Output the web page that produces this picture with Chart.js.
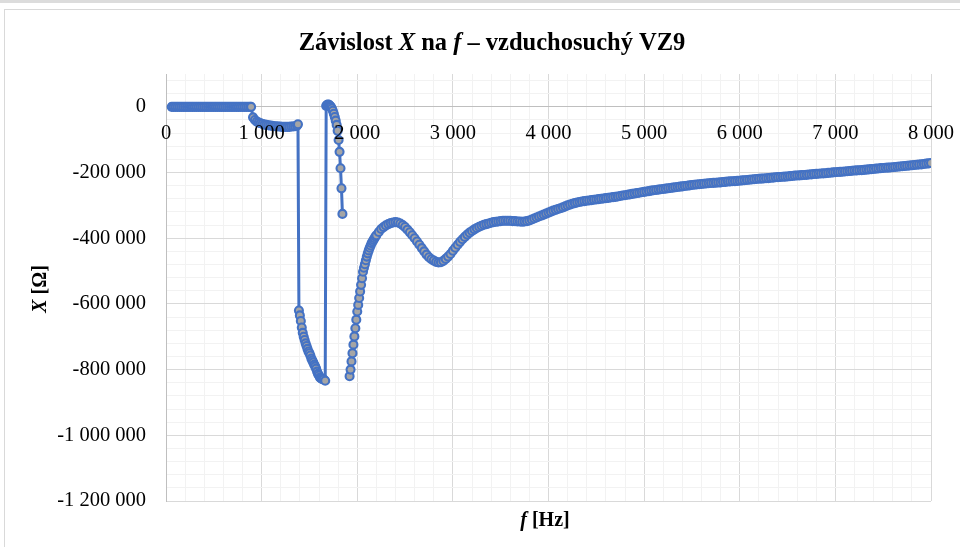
<!DOCTYPE html>
<html><head><meta charset="utf-8">
<script src="https://cdn.jsdelivr.net/npm/chart.js@4.4.1/dist/chart.umd.min.js"></script>
<style>
html,body{margin:0;padding:0;background:#fff;}
#wrap{position:relative;width:960px;height:547px;overflow:hidden;background:#fff;}
#topbar{position:absolute;left:0;top:0;width:960px;height:3px;background:#dcdcdc;}
#frame{position:absolute;left:4px;top:9px;width:1000px;height:600px;border-left:1px solid #d9d9d9;border-top:1px solid #d9d9d9;}
canvas{position:absolute;left:0;top:0;}
</style></head><body>
<div id="wrap"><div id="topbar"></div><div id="frame"></div><canvas id="c" width="960" height="547"></canvas></div>
<script>
// Segment before the gap
const freqA = [
  60,80,100,120,140,160,180,200,220,240,260,280,300,320,340,360,380,400,420,440,460,
  480,500,520,540,560,580,600,620,640,660,680,700,720,740,760,780,800,820,840,860,880,890,
  910,930,950,970,990,1010,1030,1050,1070,1090,1110,1130,1150,1170,1190,1210,1230,1250,1270,1290,1310,1330,1350,1370,1380,
  1390,1400,1410,1420,1430,1440,1450,1460,1470,1480,1490,1500,1510,1520,1530,1540,1550,1560,1570,1580,1590,1600,1610,1620,1630,1640,1650,1665,
  1675,1685,1695,1705,1715,1725,1735,1745,1755,1765,1775,1785,1795,1805,1815,1825,1835,1845
];
const reactA = [
  0,0,0,0,0,0,0,0,0,0,0,0,0,0,0,0,0,0,0,0,0,
  0,0,0,0,0,0,0,0,0,0,0,0,0,0,0,0,0,0,0,0,0,0,
  -32000,-40000,-45000,-48000,-50000,-52000,-54000,-55000,-56000,-57000,-58000,-59000,-59000,-60000,-60000,-61000,-61000,-61000,-61000,-61000,-60000,-60000,-59000,-57000,-53000,
  -620000,-635000,-652000,-672000,-688000,-700000,-710000,-720000,-728000,-737000,-745000,-750000,-757000,-766000,-772000,-778000,-785000,-790000,-797000,-806000,-813000,-818000,-824000,-826000,-828000,-829000,-830000,-834000,
  3000,6000,7000,6000,3000,0,-5000,-12000,-21000,-31000,-42000,-55000,-73000,-101000,-137000,-187000,-248000,-326000
];
// Segment after the gap
const freqB = [
  1920,1930,1940,1950,1960,1970,1980,1990,2000,2010,2020,2030,2040,2050,2060,2070,2080,2090,2100,2110,2120,2130,2140,2150,2160,2170,2180,2190,
  2200,2225,2250,2275,2300,2325,2350,2375,2400,2425,2450,2475,2500,2525,2550,2575,2600,2625,2650,2675,2700,2725,2750,2775,2800,2825,2850,2875,2900,2925,2950,2975,
  3000,3025,3050,3075,3100,3125,3150,3175,3200,3225,3250,3275,3300,3325,3350,3375,3400,3425,3450,3475,
  3500,3525,3550,3575,3600,3625,3650,3675,3700,3725,3750,3775,3800,3825,3850,3875,3900,3925,3950,3975,
  4000,4025,4050,4075,4100,4125,4150,4175,
  4200,4225,4250,4275,4300,4325,4350,4375,
  4400,4425,4450,4475,4500,4525,4550,4575,
  4600,4625,4650,4675,4700,4725,4750,4775,
  4800,4825,4850,4875,4900,4925,4950,4975,
  5000,5025,5050,5075,5100,5125,5150,5175,
  5200,5225,5250,5275,5300,5325,5350,5375,
  5400,5425,5450,5475,5500,5525,5550,5575,
  5600,5625,5650,5675,5700,5725,5750,5775,
  5800,5825,5850,5875,5900,5925,5950,5975,
  6000,6025,6050,6075,6100,6125,6150,6175,
  6200,6225,6250,6275,6300,6325,6350,6375,
  6400,6425,6450,6475,6500,6525,6550,6575,
  6600,6625,6650,6675,6700,6725,6750,6775,
  6800,6825,6850,6875,6900,6925,6950,6975,
  7000,7025,7050,7075,7100,7125,7150,7175,
  7200,7225,7250,7275,7300,7325,7350,7375,
  7400,7425,7450,7475,7500,7525,7550,7575,
  7600,7625,7650,7675,7700,7725,7750,7775,
  7800,7825,7850,7875,7900,7925,7950,7975,
  8000
];
const reactB = [
  -820000,-800000,-775000,-750000,-724000,-699000,-674000,-648000,-623000,-603000,-582000,-562000,-542000,-522000,-502000,-490000,-479000,-467000,-456000,-446000,-437000,-429000,-422000,-415000,-410000,-405000,-400000,-395000,
  -391000,-381000,-372000,-366000,-361000,-357000,-354000,-352000,-351000,-352000,-355000,-360000,-366000,-374000,-382000,-391000,-400000,-410000,-420000,-430000,-440000,-450000,-458000,-464000,-468000,-472000,-474000,-473000,-469000,-463000,-456000,-448000,
  -438000,-429000,-420000,-411000,-403000,-396000,-389000,-383000,-378000,-373000,-369000,-365000,-362000,-359000,-357000,-355000,-353000,-351000,-350000,-349000,
  -348000,-347000,-347000,-347000,-347000,-348000,-348000,-349000,-349000,-350000,-349000,-348000,-346000,-343000,-340000,-337000,-334000,-331000,-328000,-325000,
  -322000,-319000,-316000,-313500,-311000,-308500,-306000,-303000,
  -300000,-297500,-295000,-293000,-291000,-289500,-288000,-287000,
  -286000,-285000,-284000,-283000,-282000,-281000,-280000,-279000,
  -278000,-277000,-276000,-275000,-274000,-273000,-271500,-270000,
  -269000,-267500,-266500,-265000,-264000,-262500,-261500,-260000,
  -259000,-257500,-256500,-255000,-254000,-253000,-252000,-251000,
  -250000,-249000,-248000,-247000,-246000,-245000,-244000,-243000,
  -242000,-241000,-240000,-239000,-238000,-237000,-236500,-235500,
  -235000,-234000,-233500,-232500,-232000,-231500,-231000,-230500,
  -230000,-229000,-228500,-227500,-227000,-226500,-226000,-225500,
  -225000,-224000,-223500,-222500,-222000,-221000,-220500,-219500,
  -219000,-218500,-218000,-217500,-217000,-216000,-215500,-214500,
  -214000,-213500,-213000,-212500,-212000,-211000,-210500,-209500,
  -209000,-208500,-208000,-207500,-207000,-206000,-205500,-204500,
  -204000,-203500,-203000,-202500,-202000,-201000,-200500,-199500,
  -199000,-198500,-198000,-197500,-197000,-196000,-195500,-194500,
  -194000,-193500,-193000,-192500,-192000,-191000,-190500,-189500,
  -189000,-188000,-187500,-186500,-186000,-185500,-185000,-184500,
  -184000,-183000,-182500,-181500,-181000,-180000,-179500,-178500,
  -178000,-177000,-176500,-175500,-175000,-174000,-173000,-172000,
  -171000
];
// Axis ticks (labelled) and minor gridline spacing
const xLabels = [0,1000,2000,3000,4000,5000,6000,7000,8000];
const yLabels = [0,-200000,-400000,-600000,-800000,-1000000,-1200000];
const xMinorStep = 200;
const yMinorStep = 40000;
const xMin = 0, xMax = 8000, yMin = -1200000, yMax = 100000;

const FONT = '"Liberation Serif","Times New Roman",serif';
const BLUE = '#4472C4', GREY = '#A5A5A5';

function fmt(v){
  const s = Math.abs(v).toString().replace(/\B(?=(\d{3})+(?!\d))/g,'\u00a0');
  return (v < 0 ? '-' : '') + s;
}
function gridValues(min, max, step){
  const out = [];
  for (let v = Math.ceil(min/step)*step; v <= max; v += step) out.push(v);
  return out;
}
const xGrid = gridValues(xMin, xMax, xMinorStep);
const yGrid = gridValues(yMin, yMax, yMinorStep);

const pts = (f, r) => f.map((x, i) => ({x: x, y: r[i]}));
const style = {
  showLine: true, borderColor: BLUE, borderWidth: 3, tension: 0,
  pointRadius: 4, pointBorderWidth: 2.1, pointBackgroundColor: GREY, pointBorderColor: BLUE,
  pointHoverRadius: 4
};

function drawRich(ctx, parts, size, cx, y){
  let total = 0;
  parts.forEach(p => { ctx.font = (p[1] ? 'italic ' : '') + 'bold ' + size + 'px ' + FONT; p.w = ctx.measureText(p[0]).width; total += p.w; });
  let x = cx - total/2;
  ctx.textAlign = 'left';
  ctx.textBaseline = 'alphabetic';
  ctx.fillStyle = '#000';
  parts.forEach(p => { ctx.font = (p[1] ? 'italic ' : '') + 'bold ' + size + 'px ' + FONT; ctx.fillText(p[0], x, y); x += p.w; });
}

const textPlugin = {
  id: 'texts',
  afterDraw(chart){
    const ctx = chart.ctx;
    ctx.save();
    drawRich(ctx, [['Závislost ',0],['X',1],[' na ',0],['f',1],[' – vzduchosuchý VZ9',0]], 24.5, 492, 50);
    drawRich(ctx, [['f',1],[' [Hz]',0]], 20, 545, 526);
    ctx.translate(46, 289);
    ctx.rotate(-Math.PI/2);
    drawRich(ctx, [['X',1],[' [Ω]',0]], 20, 0, 0);
    ctx.restore();
  }
};

new Chart(document.getElementById('c'), {
  type: 'scatter',
  data: { datasets: [
    Object.assign({ data: pts(freqA, reactA) }, style),
    Object.assign({ data: pts(freqB, reactB) }, style)
  ]},
  options: {
    responsive: false, animation: false, devicePixelRatio: 1,
    layout: { padding: { left: 0, top: 74, right: 29, bottom: 46 } },
    plugins: { legend: { display: false }, tooltip: { enabled: false }, title: { display: false } },
    scales: {
      x: {
        type: 'linear', position: { y: 0 }, min: xMin, max: xMax,
        afterBuildTicks: s => { s.ticks = xGrid.map(v => ({ value: v })); },
        afterFit: s => { s.paddingLeft = 0; s.paddingRight = 0; },
        ticks: { autoSkip: false, maxRotation: 0, minRotation: 0, padding: 14, color: '#000', z: 1,
          font: { family: FONT, size: 20.5 },
          callback: v => xLabels.includes(v) ? fmt(v) : '' },
        grid: { drawTicks: false, lineWidth: 1,
          color: c => (c.tick && xLabels.includes(c.tick.value)) ? '#d9d9d9' : '#f2f2f2' },
        border: { color: '#bfbfbf', width: 1 }
      },
      y: {
        type: 'linear', position: 'left', min: yMin, max: yMax,
        afterBuildTicks: s => { s.ticks = yGrid.map(v => ({ value: v })); },
        afterFit: s => { s.width = 166; s.paddingTop = 0; s.paddingBottom = 0; },
        ticks: { autoSkip: false, padding: 20, color: '#000',
          font: { family: FONT, size: 20.5 },
          callback: v => yLabels.includes(v) ? fmt(v) : '' },
        grid: { drawTicks: false, lineWidth: 1,
          color: c => (c.tick && yLabels.includes(c.tick.value)) ? '#d9d9d9' : '#f2f2f2' },
        border: { color: '#bfbfbf', width: 1 }
      }
    }
  },
  plugins: [textPlugin]
});
</script>
</body></html>
